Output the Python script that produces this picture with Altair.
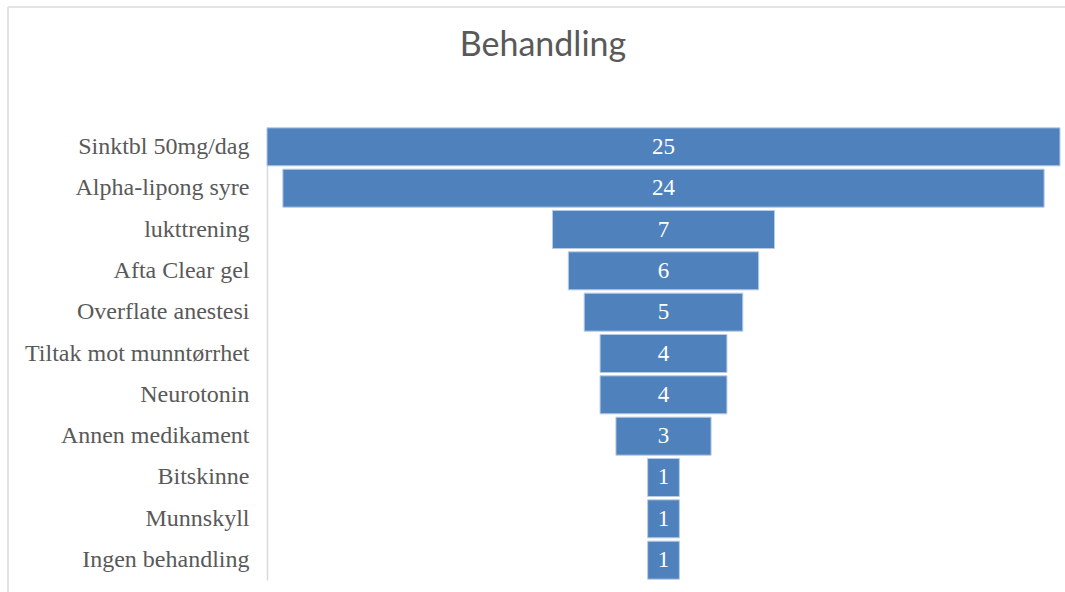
import altair as alt
import pandas as pd

categories = ["Sinktbl 50mg/dag", "Alpha-lipong syre", "lukttrening", "Afta Clear gel",
              "Overflate anestesi", "Tiltak mot munntørrhet", "Neurotonin", "Annen medikament",
              "Bitskinne", "Munnskyll", "Ingen behandling"]
values = [25, 24, 7, 6, 5, 4, 4, 3, 1, 1, 1]
title_text = ["Behandling"]

df = pd.DataFrame({"cat": categories, "val": values})
df["lo"] = -df["val"] / 2
df["hi"] = df["val"] / 2
tdf = pd.DataFrame({"t": title_text})

W, H = 793, 453
yenc = alt.Y("cat:N", sort=categories, title=None,
             scale=alt.Scale(paddingInner=0.08, paddingOuter=0.02),
             axis=alt.Axis(labelFont="Liberation Serif", labelFontSize=24, labelColor="#595959",
                           ticks=False, labelPadding=18, domainColor="#d9d9d9", domainWidth=1.5,
                           labelLimit=400))
xscale = alt.Scale(domain=[-12.5, 12.5], nice=False, zero=False)

bars = alt.Chart(df).mark_bar(color="#4F81BD", stroke="#b8cce4", strokeWidth=1).encode(
    x=alt.X("lo:Q", scale=xscale, axis=None),
    x2="hi:Q",
    y=yenc,
)
labels = alt.Chart(df).mark_text(font="Liberation Serif", fontSize=23, color="white").encode(
    x=alt.X("zero:Q", scale=xscale, axis=None),
    y=alt.Y("cat:N", sort=categories),
    text="val:Q",
).transform_calculate(zero="0")

title = alt.Chart(tdf).mark_text(font="Lato", fontSize=34, color="#595959",
                                 baseline="middle", align="center").encode(
    x=alt.value(276), y=alt.value(-81), text="t:N")

border_v = alt.Chart(df).mark_rule(color="#e3e3e3", strokeWidth=1.5).encode(
    x=alt.value(-259), y=alt.value(-120), y2=alt.value(470))
border_h = alt.Chart(df).mark_rule(color="#e3e3e3", strokeWidth=1.5).encode(
    x=alt.value(-259), x2=alt.value(800), y=alt.value(-120))

chart = alt.layer(bars, labels, title, border_v, border_h).properties(
    width=W, height=H,
    autosize=alt.AutoSizeParams(type="none"),
    padding={"left": 267, "top": 127, "right": 5, "bottom": 12},
).configure_view(stroke=None)

chart.save("out.html", embed_options={"renderer": "svg", "actions": False})
